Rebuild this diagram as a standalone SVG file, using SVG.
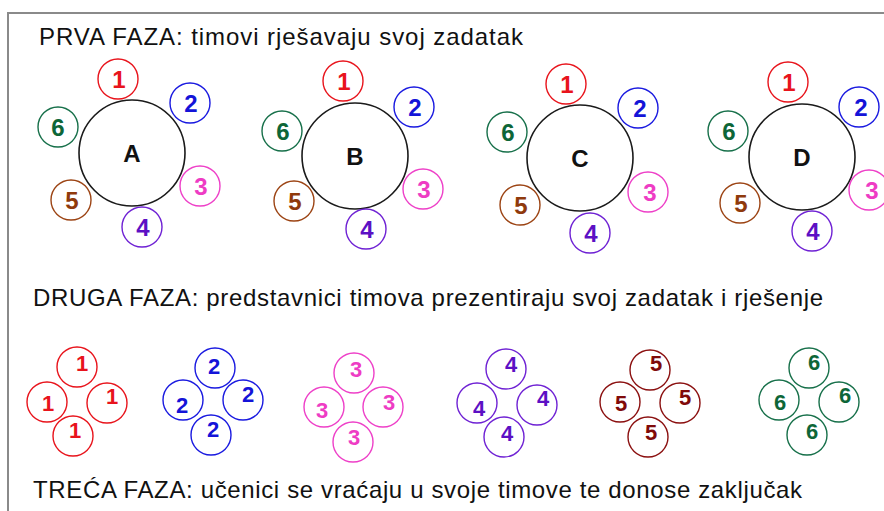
<svg xmlns="http://www.w3.org/2000/svg" width="884" height="511" viewBox="0 0 884 511">
<style>
.frame{fill:none;stroke:#8a8a8a;stroke-width:2}
.title{font-family:"Liberation Sans",Arial,sans-serif;font-size:24px;fill:#111}
.big{fill:#fff;stroke:#1a1a1a;stroke-width:1.6}
.lbl{font-family:"Liberation Sans",Arial,sans-serif;font-weight:bold;font-size:24px;fill:#111;text-anchor:middle}
.s{fill:#fff;stroke-width:1.4}
.n{font-family:"Liberation Sans",Arial,sans-serif;font-weight:bold;font-size:24px;text-anchor:middle}
.m{font-family:"Liberation Sans",Arial,sans-serif;font-weight:bold;font-size:22px;text-anchor:middle}
.c1{stroke:#e8141c}.t1{fill:#e8141c}
.c2{stroke:#1a1ae0}.t2{fill:#1414d8}
.c3{stroke:#ee40c8}.t3{fill:#ee3cc4}
.c4{stroke:#6f22d4}.t4{fill:#5c10c4}
.c5{stroke:#9c4414}.t5{fill:#8f3a0c}
.c6{stroke:#17704a}.t6{fill:#0d6638}
.c5b{stroke:#8b1010}.t5b{fill:#800a0a}
</style>
<rect width="884" height="511" fill="#fff"/>
<path class="frame" d="M8,511 V13 H884"/>
<text class="title" x="39" y="45" textLength="484" lengthAdjust="spacing">PRVA FAZA:  timovi rješavaju svoj zadatak</text>
<text class="title" x="33" y="306" textLength="790" lengthAdjust="spacing">DRUGA FAZA: predstavnici timova prezentiraju svoj zadatak i rješenje</text>
<text class="title" x="33" y="498" textLength="769" lengthAdjust="spacing">TREĆA FAZA: učenici se vraćaju u svoje timove te donose zaključak</text>

<g id="connectors"></g>

<!-- Table A -->
<g id="table-A"><circle class="big" cx="132" cy="153" r="53"/><text class="lbl" x="132" y="162">A</text></g>
<g id="A-1"><circle class="s c1" cx="118" cy="79" r="20"/><text class="n t1" x="119" y="88">1</text></g>
<g id="A-2"><circle class="s c2" cx="190" cy="103" r="20"/><text class="n t2" x="191" y="112">2</text></g>
<g id="A-3"><circle class="s c3" cx="200" cy="186" r="20"/><text class="n t3" x="201" y="195">3</text></g>
<g id="A-4"><circle class="s c4" cx="142" cy="227" r="20"/><text class="n t4" x="143" y="236">4</text></g>
<g id="A-5"><circle class="s c5" cx="71" cy="200" r="20"/><text class="n t5" x="72" y="209">5</text></g>
<g id="A-6"><circle class="s c6" cx="58" cy="127" r="20"/><text class="n t6" x="58" y="136">6</text></g>

<!-- Table B -->
<g id="table-B"><circle class="big" cx="355" cy="156" r="53"/><text class="lbl" x="355" y="165">B</text></g>
<g id="B-1"><circle class="s c1" cx="343" cy="81" r="20"/><text class="n t1" x="344" y="90">1</text></g>
<g id="B-2"><circle class="s c2" cx="414" cy="107" r="20"/><text class="n t2" x="415" y="116">2</text></g>
<g id="B-3"><circle class="s c3" cx="423" cy="189" r="20"/><text class="n t3" x="424" y="198">3</text></g>
<g id="B-4"><circle class="s c4" cx="366" cy="229" r="20"/><text class="n t4" x="367" y="238">4</text></g>
<g id="B-5"><circle class="s c5" cx="294" cy="201" r="20"/><text class="n t5" x="295" y="210">5</text></g>
<g id="B-6"><circle class="s c6" cx="282" cy="131" r="20"/><text class="n t6" x="283" y="140">6</text></g>

<!-- Table C -->
<g id="table-C"><circle class="big" cx="580" cy="158" r="53"/><text class="lbl" x="580" y="167">C</text></g>
<g id="C-1"><circle class="s c1" cx="566" cy="84" r="20"/><text class="n t1" x="567" y="93">1</text></g>
<g id="C-2"><circle class="s c2" cx="638" cy="108" r="20"/><text class="n t2" x="640" y="117">2</text></g>
<g id="C-3"><circle class="s c3" cx="648" cy="192" r="20"/><text class="n t3" x="650" y="201">3</text></g>
<g id="C-4"><circle class="s c4" cx="590" cy="233" r="20"/><text class="n t4" x="591" y="242">4</text></g>
<g id="C-5"><circle class="s c5" cx="520" cy="205" r="20"/><text class="n t5" x="521" y="214">5</text></g>
<g id="C-6"><circle class="s c6" cx="507" cy="132" r="20"/><text class="n t6" x="508" y="141">6</text></g>

<!-- Table D -->
<g id="table-D"><circle class="big" cx="802" cy="157" r="53"/><text class="lbl" x="802" y="166">D</text></g>
<g id="D-1"><circle class="s c1" cx="788" cy="82" r="20"/><text class="n t1" x="789" y="91">1</text></g>
<g id="D-2"><circle class="s c2" cx="859" cy="107" r="20"/><text class="n t2" x="861" y="116">2</text></g>
<g id="D-3"><circle class="s c3" cx="869" cy="190" r="20"/><text class="n t3" x="872" y="199">3</text></g>
<g id="D-4"><circle class="s c4" cx="812" cy="231" r="20"/><text class="n t4" x="813" y="240">4</text></g>
<g id="D-5"><circle class="s c5" cx="740" cy="203" r="20"/><text class="n t5" x="741" y="212">5</text></g>
<g id="D-6"><circle class="s c6" cx="728" cy="131" r="20"/><text class="n t6" x="729" y="140">6</text></g>

<!-- Phase 2 clusters -->
<g id="group-1">
<g id="g1-top"><circle class="s c1" cx="77" cy="367" r="20"/><text class="m t1" x="82" y="371">1</text></g>
<g id="g1-left"><circle class="s c1" cx="47" cy="402" r="20"/><text class="m t1" x="48" y="411">1</text></g>
<g id="g1-right"><circle class="s c1" cx="107" cy="403" r="20"/><text class="m t1" x="112" y="404">1</text></g>
<g id="g1-bottom"><circle class="s c1" cx="73" cy="436" r="20"/><text class="m t1" x="75" y="438">1</text></g>
</g>
<g id="group-2">
<g id="g2-top"><circle class="s c2" cx="215" cy="368" r="20"/><text class="m t2" x="214" y="374">2</text></g>
<g id="g2-left"><circle class="s c2" cx="183" cy="400" r="20"/><text class="m t2" x="182" y="413">2</text></g>
<g id="g2-right"><circle class="s c2" cx="243" cy="400" r="20"/><text class="m t2" x="248" y="402">2</text></g>
<g id="g2-bottom"><circle class="s c2" cx="211" cy="435" r="20"/><text class="m t2" x="213" y="437">2</text></g>
</g>
<g id="group-3">
<g id="g3-top"><circle class="s c3" cx="354" cy="373" r="20"/><text class="m t3" x="356" y="377">3</text></g>
<g id="g3-left"><circle class="s c3" cx="324" cy="407" r="20"/><text class="m t3" x="322" y="418">3</text></g>
<g id="g3-right"><circle class="s c3" cx="383" cy="407" r="20"/><text class="m t3" x="389" y="410">3</text></g>
<g id="g3-bottom"><circle class="s c3" cx="353" cy="442" r="20"/><text class="m t3" x="354" y="445">3</text></g>
</g>
<g id="group-4">
<g id="g4-top"><circle class="s c4" cx="506" cy="369" r="20"/><text class="m t4" x="511" y="372">4</text></g>
<g id="g4-left"><circle class="s c4" cx="477" cy="403" r="20"/><text class="m t4" x="479" y="416">4</text></g>
<g id="g4-right"><circle class="s c4" cx="537" cy="405" r="20"/><text class="m t4" x="543" y="406">4</text></g>
<g id="g4-bottom"><circle class="s c4" cx="504" cy="437" r="20"/><text class="m t4" x="507" y="441">4</text></g>
</g>
<g id="group-5">
<g id="g5-top"><circle class="s c5b" cx="650" cy="370" r="20"/><text class="m t5b" x="656" y="371">5</text></g>
<g id="g5-left"><circle class="s c5b" cx="620" cy="402" r="20"/><text class="m t5b" x="621" y="411">5</text></g>
<g id="g5-right"><circle class="s c5b" cx="680" cy="403" r="20"/><text class="m t5b" x="685" y="405">5</text></g>
<g id="g5-bottom"><circle class="s c5b" cx="648" cy="437" r="20"/><text class="m t5b" x="651" y="440">5</text></g>
</g>
<g id="group-6">
<g id="g6-top"><circle class="s c6" cx="809" cy="368" r="20"/><text class="m t6" x="814" y="370">6</text></g>
<g id="g6-left"><circle class="s c6" cx="779" cy="400" r="20"/><text class="m t6" x="780" y="410">6</text></g>
<g id="g6-right"><circle class="s c6" cx="839" cy="402" r="20"/><text class="m t6" x="845" y="403">6</text></g>
<g id="g6-bottom"><circle class="s c6" cx="807" cy="435" r="20"/><text class="m t6" x="812" y="439">6</text></g>
</g>
</svg>
